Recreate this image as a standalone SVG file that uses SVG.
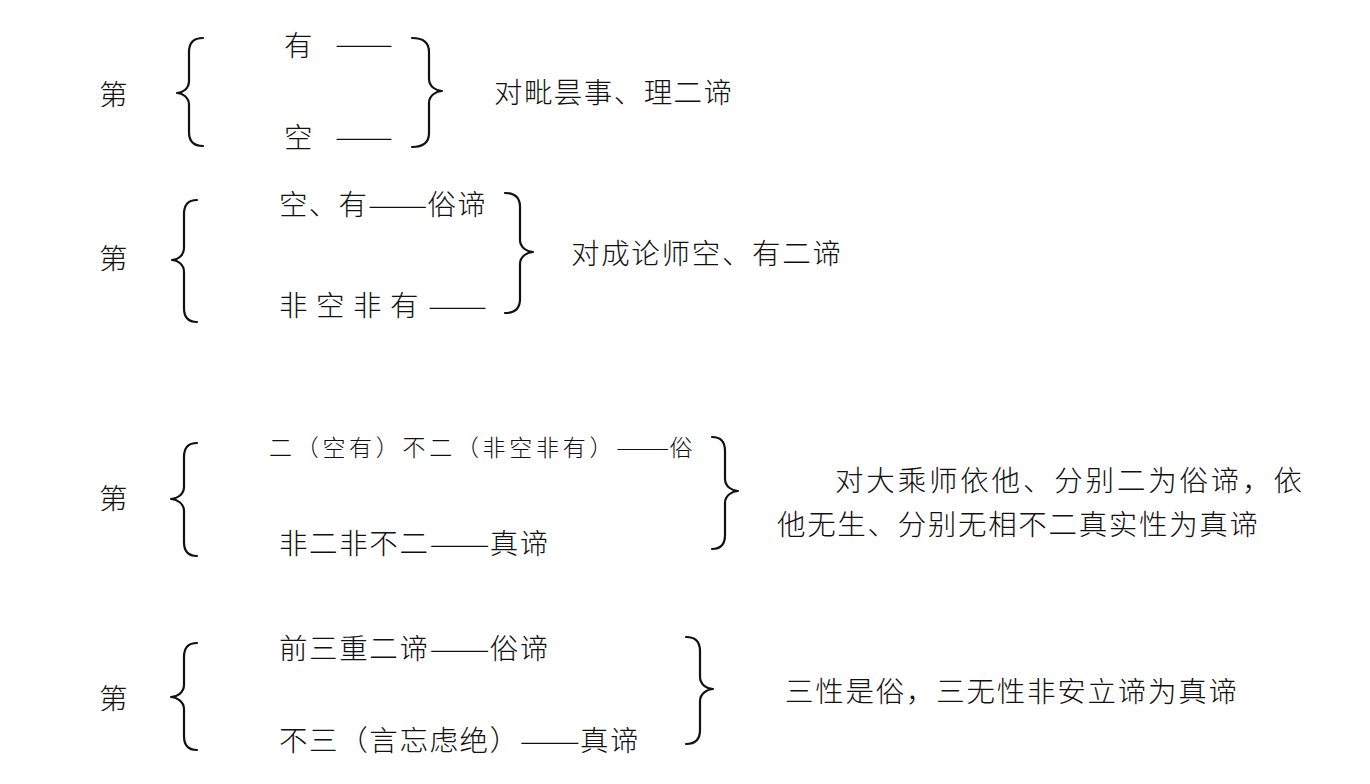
<svg xmlns="http://www.w3.org/2000/svg" width="1370" height="784" viewBox="0 0 1370 784">
<style>
text{font-family:"Noto Sans CJK SC","Noto Sans CJK TC",sans-serif;font-size:28.5px;font-weight:300;fill:#111}
.sm{font-size:23px}
.brace{fill:none;stroke:#111;stroke-width:2.2;stroke-linecap:round;stroke-linejoin:round}
</style>
<rect width="1370" height="784" fill="#fff"/>
<g id="braces">
<path class="brace" d="M203,38 Q189,38 189,52 L189,81 C189,89 182,93 177,93 C182,93 189,97 189,105 L189,132 Q189,146 203,146"/>
<path class="brace" d="M412,38 Q429,38 429,52 L429,79 C429,87 437,91 442,91 C437,91 429,95 429,103 L429,133 Q429,147 412,147"/>
<path class="brace" d="M197,200 Q184,200 184,214 L184,248 C184,256 177,260 172,260 C177,260 184,264 184,272 L184,308 Q184,322 197,322"/>
<path class="brace" d="M505,193 Q520,193 520,207 L520,240 C520,248 528,252 533,252 C528,252 520,256 520,264 L520,299 Q520,313 505,313"/>
<path class="brace" d="M197,443 Q184,443 184,457 L184,487 C184,495 176,499 171,499 C176,499 184,503 184,511 L184,542 Q184,556 197,556"/>
<path class="brace" d="M712,437 Q725,437 725,451 L725,479 C725,487 733,491 738,491 C733,491 725,495 725,503 L725,535 Q725,549 712,549"/>
<path class="brace" d="M197,643 Q184,643 184,657 L184,685 C184,693 176,697 171,697 C176,697 184,701 184,709 L184,736 Q184,750 197,750"/>
<path class="brace" d="M686,637 Q700,637 700,651 L700,677 C700,685 708,689 713,689 C708,689 700,693 700,701 L700,730 Q700,744 686,744"/>
</g>
<g id="tier1">
<text x="99" y="105">第</text>
<text y="56"><tspan x="284">有</tspan><tspan x="335" y="54" textLength="58" lengthAdjust="spacingAndGlyphs">——</tspan></text>
<text y="148"><tspan x="284">空</tspan><tspan x="335" y="147" textLength="58" lengthAdjust="spacingAndGlyphs">——</tspan></text>
<text x="494" y="103" textLength="238" lengthAdjust="spacing">对毗昙事、理二谛</text>
</g>
<g id="tier2">
<text x="99" y="269">第</text>
<text y="215"><tspan x="279 308.7 338.4">空、有</tspan><tspan x="368.1" textLength="59.4" lengthAdjust="spacingAndGlyphs">——</tspan><tspan x="427.5 457.2">俗谛</tspan></text>
<text y="316"><tspan x="279 298 316 335 353 372 390 409">非 空 非 有 </tspan><tspan x="428" textLength="59" lengthAdjust="spacingAndGlyphs">——</tspan></text>
<text x="571" y="264" textLength="270" lengthAdjust="spacing">对成论师空、有二谛</text>
</g>
<g id="tier3">
<text x="99" y="509">第</text>
<text class="sm" y="456"><tspan x="269 295.7 322.4 349.1 375.8 402.5 429.2 455.9 482.6 509.3 536 562.7 589.4">二（空有）不二（非空非有）</tspan><tspan x="616.1" textLength="53.4" lengthAdjust="spacingAndGlyphs">——</tspan><tspan x="669.5">俗</tspan></text>
<text y="554"><tspan x="279 309.1 339.2 369.3 399.4">非二非不二</tspan><tspan x="429.5" textLength="60.2" lengthAdjust="spacingAndGlyphs">——</tspan><tspan x="489.7 519.8">真谛</tspan></text>
<text x="835" y="491" textLength="467" lengthAdjust="spacing">对大乘师依他、分别二为俗谛，依</text>
<text x="777" y="535" textLength="481" lengthAdjust="spacing">他无生、分别无相不二真实性为真谛</text>
</g>
<g id="tier4">
<text x="99" y="709">第</text>
<text y="659"><tspan x="279 309.1 339.2 369.3 399.4">前三重二谛</tspan><tspan x="429.5" textLength="60.2" lengthAdjust="spacingAndGlyphs">——</tspan><tspan x="489.7 519.8">俗谛</tspan></text>
<text y="751"><tspan x="279 309.1 339.2 369.3 399.4 429.5 459.6 489.7">不三（言忘虑绝）</tspan><tspan x="519.8" textLength="60.2" lengthAdjust="spacingAndGlyphs">——</tspan><tspan x="580 610.1">真谛</tspan></text>
<text x="785" y="702" textLength="452" lengthAdjust="spacing">三性是俗，三无性非安立谛为真谛</text>
</g>
</svg>
